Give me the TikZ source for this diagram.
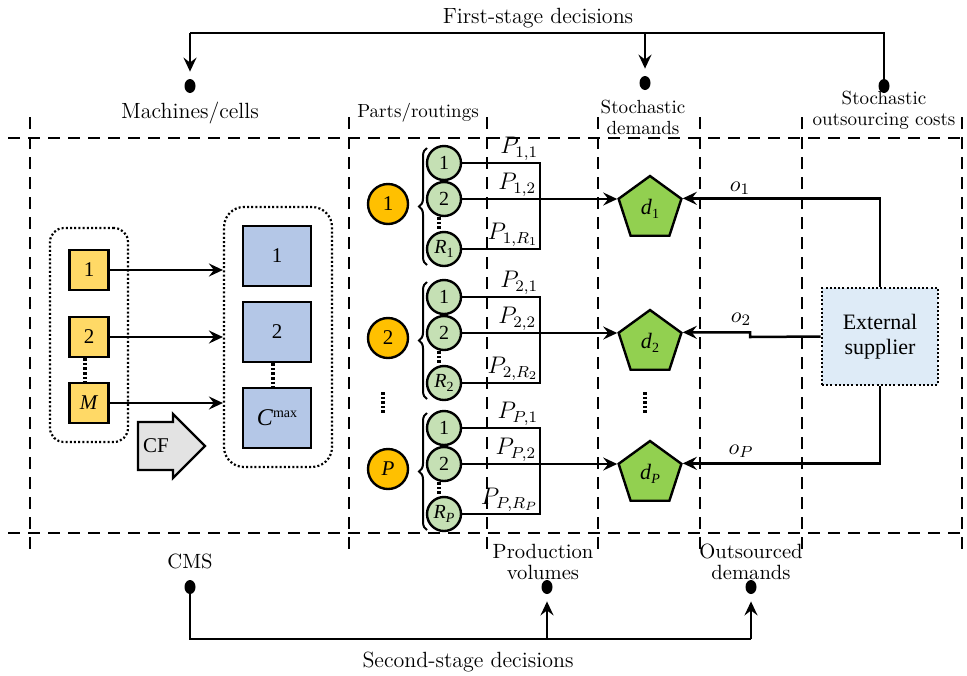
\documentclass[tikz,border=0pt]{standalone}
\usepackage{fontspec}
\newfontfamily\tms{Liberation Serif}
\usetikzlibrary{arrows.meta,shapes.geometric,decorations.pathreplacing,calc}

\definecolor{machY}{HTML}{FFD966}
\definecolor{cellB}{HTML}{B4C7E7}
\definecolor{partO}{HTML}{FFC000}
\definecolor{routG}{HTML}{C5E0B4}
\definecolor{demG}{HTML}{92D050}
\definecolor{supB}{HTML}{DEEBF7}
\definecolor{cfGray}{HTML}{E3E3E3}

% lowered small subscript for text-mode labels
\newcommand\lsub[1]{\raisebox{-0.45ex}{\scriptsize #1}}

\begin{document}
\begin{tikzpicture}[x=0.5pt,y=-0.5pt,
  divider/.style={line width=1.15pt, dash pattern=on 6pt off 4pt},
  grpbox/.style={draw, line width=1.1pt, dash pattern=on 1pt off 1.1pt, inner sep=0},
  msq/.style={draw, line width=1.2pt, fill=machY, minimum width=19.5pt, minimum height=20pt, inner sep=0, font=\tms\fontsize{10.5}{11}\selectfont},
  csq/.style={draw, line width=1.2pt, fill=cellB, minimum width=34pt, minimum height=30pt, inner sep=0, font=\tms\fontsize{10.5}{11}\selectfont},
  part/.style={circle, draw, line width=1.2pt, fill=partO, minimum size=20pt, inner sep=0, font=\tms\fontsize{10.5}{11}\selectfont},
  rout/.style={circle, draw, line width=1.2pt, fill=routG, minimum size=17pt, inner sep=0, font=\tms\fontsize{10}{11}\selectfont},
  dem/.style={regular polygon, regular polygon sides=5, draw, line width=1.2pt, fill=demG, minimum size=33pt, inner sep=0, font=\tms\fontsize{11}{12}\selectfont},
  supbox/.style={draw, line width=1.3pt, dash pattern=on 1pt off 1.1pt, fill=supB, minimum width=58pt, minimum height=48.5pt, inner sep=0, align=center, font=\tms\fontsize{11}{12.5}\selectfont},
  conn/.style={line width=1.25pt},
  arr/.style={line width=1.25pt, -{Stealth[length=7pt,width=6.5pt,inset=2.5pt]}},
  stagearr/.style={line width=1.4pt, -{Stealth[length=7pt,width=6.5pt,inset=2.5pt]}},
  stageline/.style={line width=1.4pt},
  pin/.style={ellipse, fill=black, minimum width=5.5pt, minimum height=7pt, inner sep=0},
  vdots/.style={line width=1.7pt, dash pattern=on 1.3pt off 1pt},
  sublbl/.style={anchor=south east, inner sep=1.2pt, font=\fontsize{11.5}{12}\selectfont},
  bigtxt/.style={font=\fontsize{11}{12}\selectfont},
  smalltxt/.style={align=center, font=\fontsize{9.5}{10.5}\selectfont},
  midtxt/.style={align=center, font=\fontsize{10.3}{10.5}\selectfont},
  bracestyle/.style={line width=1pt, decorate, decoration={brace, amplitude=4pt}}
]
\useasboundingbox (0,0) rectangle (967,675);

% ---------- column and band dividers ----------
\foreach \xx in {30,349,487,598,700,802,962}
  \draw[divider] (\xx,117) -- (\xx,550);
\draw[divider] (8,138) -- (965,138);
\draw[divider] (8,533) -- (965,533);

% ---------- first-stage decisions ----------
\node[bigtxt] (fs) at (538,18) {First-stage decisions};
\coordinate (fsL) at (190,33);
\coordinate (fsM) at (645,33);
\coordinate (fsR) at (884,33);
\node[pin] (pinMC) at (190,86) {};
\node[pin] (pinSD) at (645,83) {};
\node[pin] (pinOC) at (884,86) {};
\draw[stageline] (pinOC.center) -- (fsR) -- (fsL);
\draw[stagearr, shorten >=3.5pt] (fsL) -- (pinMC.north);
\draw[stagearr, shorten >=3.5pt] (fsM) -- (pinSD.north);

\node[bigtxt] (lmc) at (190,113) {Machines/cells};
\node[smalltxt] (lpr) at (418,113) {Parts/routings};
\node[smalltxt] (lsd) at (643,117) {Stochastic\\demands};
\node[smalltxt] (loc) at (884,110) {Stochastic\\outsourcing costs};

% ---------- second-stage decisions ----------
\node[midtxt] (lcms) at (190,561) {CMS};
\node[midtxt] (lpv) at (543,562) {Production\\volumes};
\node[midtxt] (lod) at (751,562) {Outsourced\\demands};
\node[pin] (pinCMS) at (190,587) {};
\node[pin] (pinPV) at (547,587) {};
\node[pin] (pinOD) at (751,587) {};
\coordinate (ssL) at (190,639);
\coordinate (ssM) at (547,639);
\coordinate (ssR) at (751,639);
\draw[stageline] (pinCMS.center) -- (ssL) -- (ssR);
\draw[stagearr, shorten >=3.5pt] (ssM) -- (pinPV.south);
\draw[stagearr, shorten >=3.5pt] (ssR) -- (pinOD.south);
\node[bigtxt] (ss) at (468,662) {Second-stage decisions};

% ---------- machines grouped into cells ----------
\node[grpbox, rounded corners=7pt, minimum width=39pt, minimum height=107pt] (mgrp) at (89,335) {};
\node[grpbox, rounded corners=10pt, minimum width=54pt, minimum height=130pt] (cgrp) at (278,337) {};

\node[msq] (m1) at (89,270) {1};
\node[msq] (m2) at (89,337) {2};
\node[msq] (mM) at (89,403) {\textit{M}};
\draw[vdots] ([xshift=-2pt]m2.south) -- ([xshift=-2pt]mM.north);

\node[csq] (c1) at (277,256) {1};
\node[csq] (c2) at (277,332) {2};
\node[csq] (cM) at (277,418) {\fontsize{12}{12}\selectfont\textit{C}\raisebox{0.75ex}{\scriptsize max}};
\draw[vdots] ([xshift=-2pt]c2.south) -- ([xshift=-2pt]cM.north);

\draw[arr] (m1.east) -- (m1.east -| cgrp.west);
\draw[arr] (m2.east) -- (m2.east -| cgrp.west);
\draw[arr] (mM.east) -- (mM.east -| cgrp.west);

% cell formation block arrow
\draw[line width=1.2pt, fill=cfGray] (138,422) -- (173,422) -- (173,414) -- (205,446)
  -- (173,478) -- (173,470) -- (138,470) -- cycle;
\node[font=\tms\fontsize{10.5}{11}\selectfont] (cf) at (156,446) {CF};

% ---------- parts, routings and demands ----------
\foreach \k/\lab/\yt in {1/1/163, 2/2/297, P/\textit{P}/428} {
  \pgfmathsetmacro\ym{\yt+36}
  \pgfmathsetmacro\yr{\yt+86}
  \pgfmathsetmacro\yo{\yt+41}
  \pgfmathsetmacro\yd{\yt+46}
  \node[part] (o\k) at (388,\yo) {\lab};
  \node[rout] (ga\k) at (444,\yt) {1};
  \node[rout] (gb\k) at (444,\ym) {2};
  \node[rout] (gr\k) at (444,\yr) {\textit{R}\lsub{\lab}};
  \draw[bracestyle] (427,{\yr+16}) -- (427,{\yt-15});
  \draw[vdots] ([xshift=-2.5pt]gb\k.south) -- ([xshift=-2.5pt]gr\k.north);
  \node[dem] (d\k) at (650,\yd) {\textit{d}\lsub{\lab}};
  \coordinate (j\k) at (540,\ym);
  \draw[conn] (ga\k.east) -| (j\k) |- (gr\k.east);
  \draw[conn] (gb\k.east) -- (j\k);
  \draw[arr] (j\k) -- (j\k -| d\k.corner 2);
  \node[sublbl] (pa\k) at (541,\yt) {$P_{\k,1}$};
  \node[sublbl] (pb\k) at (539,\ym) {$P_{\k,2}$};
  \node[sublbl] (pr\k) at (541,\yr) {$P_{\k,R_\k}$};
}

% ellipsis between groups
\coordinate (eo1) at (383,392);
\coordinate (eo2) at (383,413);
\coordinate (ed1) at (645,392);
\coordinate (ed2) at (645,413);
\draw[vdots] (eo1) -- (eo2);
\draw[vdots] (ed1) -- (ed2);

% ---------- external supplier ----------
\node[supbox] (sup) at (880,336.5) {External\\supplier};
\coordinate (jog2) at (750,337);
\draw[arr] (sup.north) |- (d1.corner 5);
\draw[arr] (sup.west) -- (jog2) |- (d2.corner 5);
\draw[arr] (sup.south) |- (dP.corner 5);
\node[bigtxt] (oa) at (740,188) {$o_1$};
\node[bigtxt] (ob) at (741,319) {$o_2$};
\node[bigtxt] (oc) at (741,451) {$o_P$};
\end{tikzpicture}
\end{document}
